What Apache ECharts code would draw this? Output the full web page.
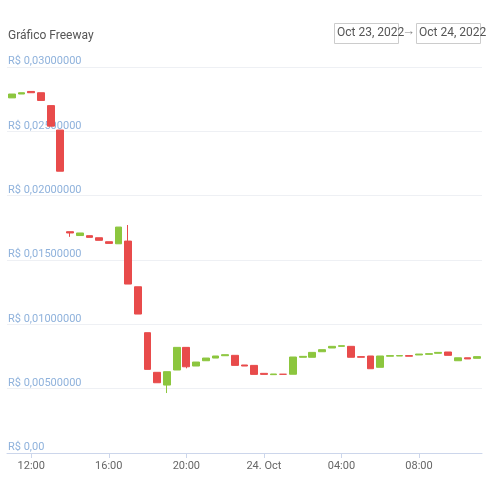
<!DOCTYPE html>
<html><head><meta charset="utf-8">
<script src="https://cdn.jsdelivr.net/npm/echarts@6/dist/echarts.min.js"></script>
<style>html,body{margin:0;padding:0;background:#fff}#c{width:490px;height:490px}</style>
</head><body><div id="c"></div>
<script>
const times = ["11:00","11:30","12:00","12:30","13:00","13:30","14:00","14:30","15:00","15:30","16:00","16:30","17:00","17:30","18:00","18:30","19:00","19:30","20:00","20:30","21:00","21:30","22:00","22:30","23:00","23:30","00:00","00:30","01:00","01:30","02:00","02:30","03:00","03:30","04:00","04:30","05:00","05:30","06:00","06:30","07:00","07:30","08:00","08:30","09:00","09:30","10:00","10:30","11:00"];
const tickLabels = {"12:00":"12:00","16:00":"16:00","20:00":"20:00","00:00":"24. Oct","04:00":"04:00","08:00":"08:00"};
const open  = [0.0276,0.0279,0.0281,0.0280,0.0270,0.0251,0.0172,0.0169,0.01689,0.01673,0.01642,0.01626,0.01647,0.01292,0.00935,0.00627,0.00528,0.00645,0.00821,0.00676,0.00717,0.00738,0.00756,0.00759,0.00684,0.00681,0.00619,0.00609,0.00612,0.00612,0.00744,0.00744,0.00787,0.00816,0.00829,0.00829,0.00749,0.00754,0.00666,0.00752,0.00754,0.00757,0.00762,0.00767,0.00775,0.00785,0.00717,0.00740,0.00736];
const close = [0.0279,0.0280,0.0280,0.0274,0.0254,0.0219,0.0171,0.0171,0.01676,0.01653,0.01629,0.01756,0.01313,0.0108,0.0065,0.00546,0.00632,0.00821,0.00670,0.00707,0.00738,0.00754,0.00764,0.00681,0.00676,0.00611,0.00611,0.00614,0.00612,0.00746,0.00751,0.00782,0.00803,0.00829,0.00834,0.00744,0.00744,0.00655,0.00754,0.00757,0.00757,0.00752,0.00769,0.00772,0.00782,0.00759,0.00740,0.00731,0.00749];
const low   = [0.0276,0.0279,0.0280,0.0274,0.0254,0.0219,0.0168,0.0169,0.01676,0.01653,0.01629,0.01626,0.01313,0.0108,0.0065,0.00546,0.00466,0.00645,0.00658,0.00676,0.00717,0.00738,0.00756,0.00681,0.00676,0.00611,0.00611,0.00609,0.00612,0.00612,0.00744,0.00744,0.00787,0.00816,0.00829,0.00744,0.00744,0.00655,0.00666,0.00752,0.00754,0.00752,0.00762,0.00767,0.00775,0.00759,0.00717,0.00731,0.00736];
const high  = [0.0279,0.0280,0.0281,0.0280,0.0270,0.0251,0.0172,0.0171,0.01689,0.01673,0.01642,0.01756,0.01772,0.01292,0.00935,0.00627,0.00632,0.00821,0.00821,0.00707,0.00738,0.00754,0.00764,0.00759,0.00684,0.00681,0.00619,0.00614,0.00612,0.00746,0.00751,0.00782,0.00803,0.00829,0.00834,0.00829,0.00749,0.00754,0.00754,0.00757,0.00757,0.00757,0.00769,0.00772,0.00782,0.00785,0.00740,0.00740,0.00749];
const data = times.map((t,i)=>[open[i],close[i],low[i],high[i]]);
const chart = echarts.init(document.getElementById('c'));
chart.setOption({
  animation:false,
  title:{text:'Gráfico Freeway',left:3,top:25,textStyle:{fontFamily:'Roboto',fontSize:12,fontWeight:'normal',color:'#555'}},
  graphic:[
    {type:'rect',left:334,top:23,shape:{width:64,height:20},style:{fill:'#fff',stroke:'#ccc',lineWidth:1}},
    {type:'text',left:337,top:27,style:{text:'Oct 23, 2022',font:'12px Roboto',fill:'#555'}},
    {type:'text',left:402,top:25,style:{text:'→',font:'13px Roboto',fill:'#888'}},
    {type:'rect',left:416,top:23,shape:{width:64,height:20},style:{fill:'#fff',stroke:'#ccc',lineWidth:1}},
    {type:'text',left:419,top:27,style:{text:'Oct 24, 2022',font:'12px Roboto',fill:'#555'}}
  ],
  grid:{left:7,right:8,top:67,bottom:37},
  xAxis:{type:'category',data:times,boundaryGap:true,
    axisLine:{lineStyle:{color:'#ccd6eb'}},
    axisTick:{show:true,alignWithLabel:true,lineStyle:{color:'#ccd6eb'},interval:(i,v)=>v in tickLabels},
    axisLabel:{interval:(i,v)=>v in tickLabels,formatter:v=>tickLabels[v]||'',color:'#666',fontSize:11,fontFamily:'Roboto'}},
  yAxis:{type:'value',min:0,max:0.03,interval:0.005,
    splitLine:{lineStyle:{color:'#eef0f4'}},axisLine:{show:false},axisTick:{show:false},
    axisLabel:{inside:true,verticalAlign:'bottom',margin:1,color:'#8fb2dc',fontSize:11,fontFamily:'Roboto',
      formatter:v=>v===0?'R$ 0,00':'R$ '+v.toFixed(8).replace('.',',')}},
  series:[{type:'candlestick',data:data,barWidth:'75%',
    itemStyle:{color:'#8cc63e',color0:'#e84b4b',borderColor:'#8cc63e',borderColor0:'#e84b4b',borderColorDoji:'#e84b4b',borderWidth:1}}]
});
</script></body></html>
